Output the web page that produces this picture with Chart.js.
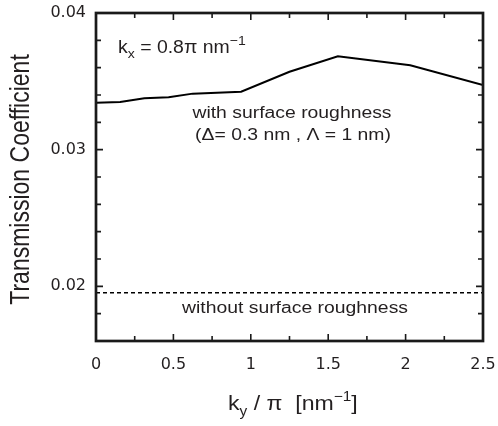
<!DOCTYPE html>
<html>
<head>
<meta charset="utf-8">
<script src="https://cdn.jsdelivr.net/npm/chart.js@4.4.1/dist/chart.umd.min.js"></script>
<style>
  html, body { margin: 0; padding: 0; background: #ffffff; }
  canvas { display: block; }
</style>
</head>
<body>
<canvas id="c" width="498" height="426"></canvas>
<script>
// ---- data ----
const kyOverPi = [0, 0.156, 0.3125, 0.469, 0.625, 0.9375, 1.25, 1.5625, 2.03, 2.5];
const withRoughness = [0.03344, 0.03349, 0.03376, 0.03383, 0.03410, 0.03424, 0.03570, 0.03683, 0.03617, 0.03473];
const withoutRoughnessX = [0, 2.5];
const withoutRoughness = [0.01953, 0.01953];
const xTickLabels = ['0', '0.5', '1', '1.5', '2', '2.5'];
const yTickLabels = ['0.02', '0.03', '0.04'];

const FONT = '"Liberation Sans", Arial, Helvetica, sans-serif';
const TICKFONT = '"DejaVu Sans", "Liberation Sans", sans-serif';
const TXT = '#231f20';

function near(a, b) { return Math.abs(a - b) < 1e-7; }
function xLabelFor(v) {
  for (const s of xTickLabels) if (near(parseFloat(s), v)) return s;
  return '';
}
function yLabelFor(v) {
  for (const s of yTickLabels) if (near(parseFloat(s), v)) return s;
  return '';
}

// draw a run of text parts [text, size, dy] starting at x, baseline y, scaled horizontally by sx
function drawRuns(ctx, parts, x, y, sx, align) {
  ctx.save();
  ctx.fillStyle = TXT;
  ctx.textBaseline = 'alphabetic';
  ctx.textAlign = 'left';
  let total = 0;
  for (const p of parts) { ctx.font = p[1] + 'px ' + FONT; total += ctx.measureText(p[0]).width; }
  ctx.translate(x, y);
  ctx.scale(sx, 1);
  let cx = 0;
  if (align === 'center') cx = -total / 2;
  for (const p of parts) {
    ctx.font = p[1] + 'px ' + FONT;
    ctx.fillText(p[0], cx, p[2] || 0);
    cx += ctx.measureText(p[0]).width;
  }
  ctx.restore();
}

const framePlugin = {
  id: 'frame',
  afterDraw(chart) {
    const ctx = chart.ctx;
    const a = chart.chartArea;
    const xs = chart.scales.x, ys = chart.scales.y;
    ctx.save();
    ctx.strokeStyle = '#1a1a1a';
    // inward ticks
    ctx.lineWidth = 1.6;
    ctx.beginPath();
    for (const t of xs.ticks) {
      const px = xs.getPixelForValue(t.value);
      if (px <= a.left + 1 || px >= a.right - 1) continue;
      const len = xLabelFor(t.value) ? 7 : 5;
      ctx.moveTo(px, a.bottom); ctx.lineTo(px, a.bottom - len);
      ctx.moveTo(px, a.top); ctx.lineTo(px, a.top + len);
    }
    for (const t of ys.ticks) {
      const py = ys.getPixelForValue(t.value);
      if (py <= a.top + 1 || py >= a.bottom - 1) continue;
      const len = yLabelFor(t.value) ? 7 : 5;
      ctx.moveTo(a.left, py); ctx.lineTo(a.left + len, py);
      ctx.moveTo(a.right, py); ctx.lineTo(a.right - len, py);
    }
    ctx.stroke();
    // frame
    ctx.lineWidth = 2.7;
    ctx.strokeRect(a.left, a.top, a.right - a.left, a.bottom - a.top);
    ctx.restore();

    // annotations
    drawRuns(ctx, [['k', 18, 0], ['x', 13, 5], [' = 0.8\u03C0 nm', 18, 0], ['\u22121', 13, -8]], 118, 53, 1.08, 'left');
    drawRuns(ctx, [['with surface roughness', 16, 0]], 292, 117.5, 1.21, 'center');
    drawRuns(ctx, [['(\u0394= 0.3 nm , \u039B = 1 nm)', 16, 0]], 293, 140, 1.21, 'center');
    drawRuns(ctx, [['without surface roughness', 16, 0]], 295, 313, 1.21, 'center');

    // x title
    drawRuns(ctx, [['k', 21, 0], ['y', 14, 6], [' / \u03C0  [nm', 21, 0], ['\u22121', 14, -9], [']', 21, 0]], 228, 410, 1.1, 'left');

    // y title (glyphs stretched like the reference)
    ctx.save();
    ctx.translate(28.5, 179.5);
    ctx.rotate(-Math.PI / 2);
    ctx.scale(1, 1.2);
    ctx.fillStyle = TXT;
    ctx.font = '23px ' + FONT;
    ctx.textAlign = 'center';
    ctx.textBaseline = 'alphabetic';
    ctx.fillText('Transmission Coefficient', 0, 0);
    ctx.restore();
  }
};

new Chart(document.getElementById('c'), {
  type: 'scatter',
  data: {
    datasets: [
      {
        label: 'with surface roughness',
        data: kyOverPi.map((x, i) => ({ x: x, y: withRoughness[i] })),
        showLine: true,
        borderColor: '#000000',
        borderWidth: 2,
        pointRadius: 0,
        tension: 0,
        fill: false
      },
      {
        label: 'without surface roughness',
        data: withoutRoughnessX.map((x, i) => ({ x: x, y: withoutRoughness[i] })),
        showLine: true,
        borderColor: '#000000',
        borderWidth: 1.6,
        borderDash: [4, 3],
        pointRadius: 0,
        fill: false
      }
    ]
  },
  options: {
    responsive: false,
    devicePixelRatio: 1,
    animation: false,
    layout: { autoPadding: false, padding: { left: 0, top: 13, right: 15, bottom: 0 } },
    plugins: { legend: { display: false }, tooltip: { enabled: false } },
    scales: {
      x: {
        type: 'linear',
        min: 0, max: 2.5,
        afterFit(s) { s.height = 85; s.paddingLeft = 0; s.paddingRight = 0; },
        grid: { display: false, drawTicks: false },
        border: { display: false },
        ticks: {
          stepSize: 0.25,
          autoSkip: false,
          maxRotation: 0,
          padding: 14,
          color: TXT,
          font: { family: TICKFONT, size: 16 },
          callback: (v) => xLabelFor(v)
        }
      },
      y: {
        type: 'linear',
        min: 0.016, max: 0.04,
        afterFit(s) { s.width = 96; s.paddingTop = 0; s.paddingBottom = 0; },
        grid: { display: false, drawTicks: false },
        border: { display: false },
        ticks: {
          stepSize: 0.002,
          autoSkip: false,
          padding: 10,
          color: TXT,
          font: { family: TICKFONT, size: 16 },
          callback: (v) => yLabelFor(v)
        }
      }
    }
  },
  plugins: [framePlugin]
});
</script>
</body>
</html>
